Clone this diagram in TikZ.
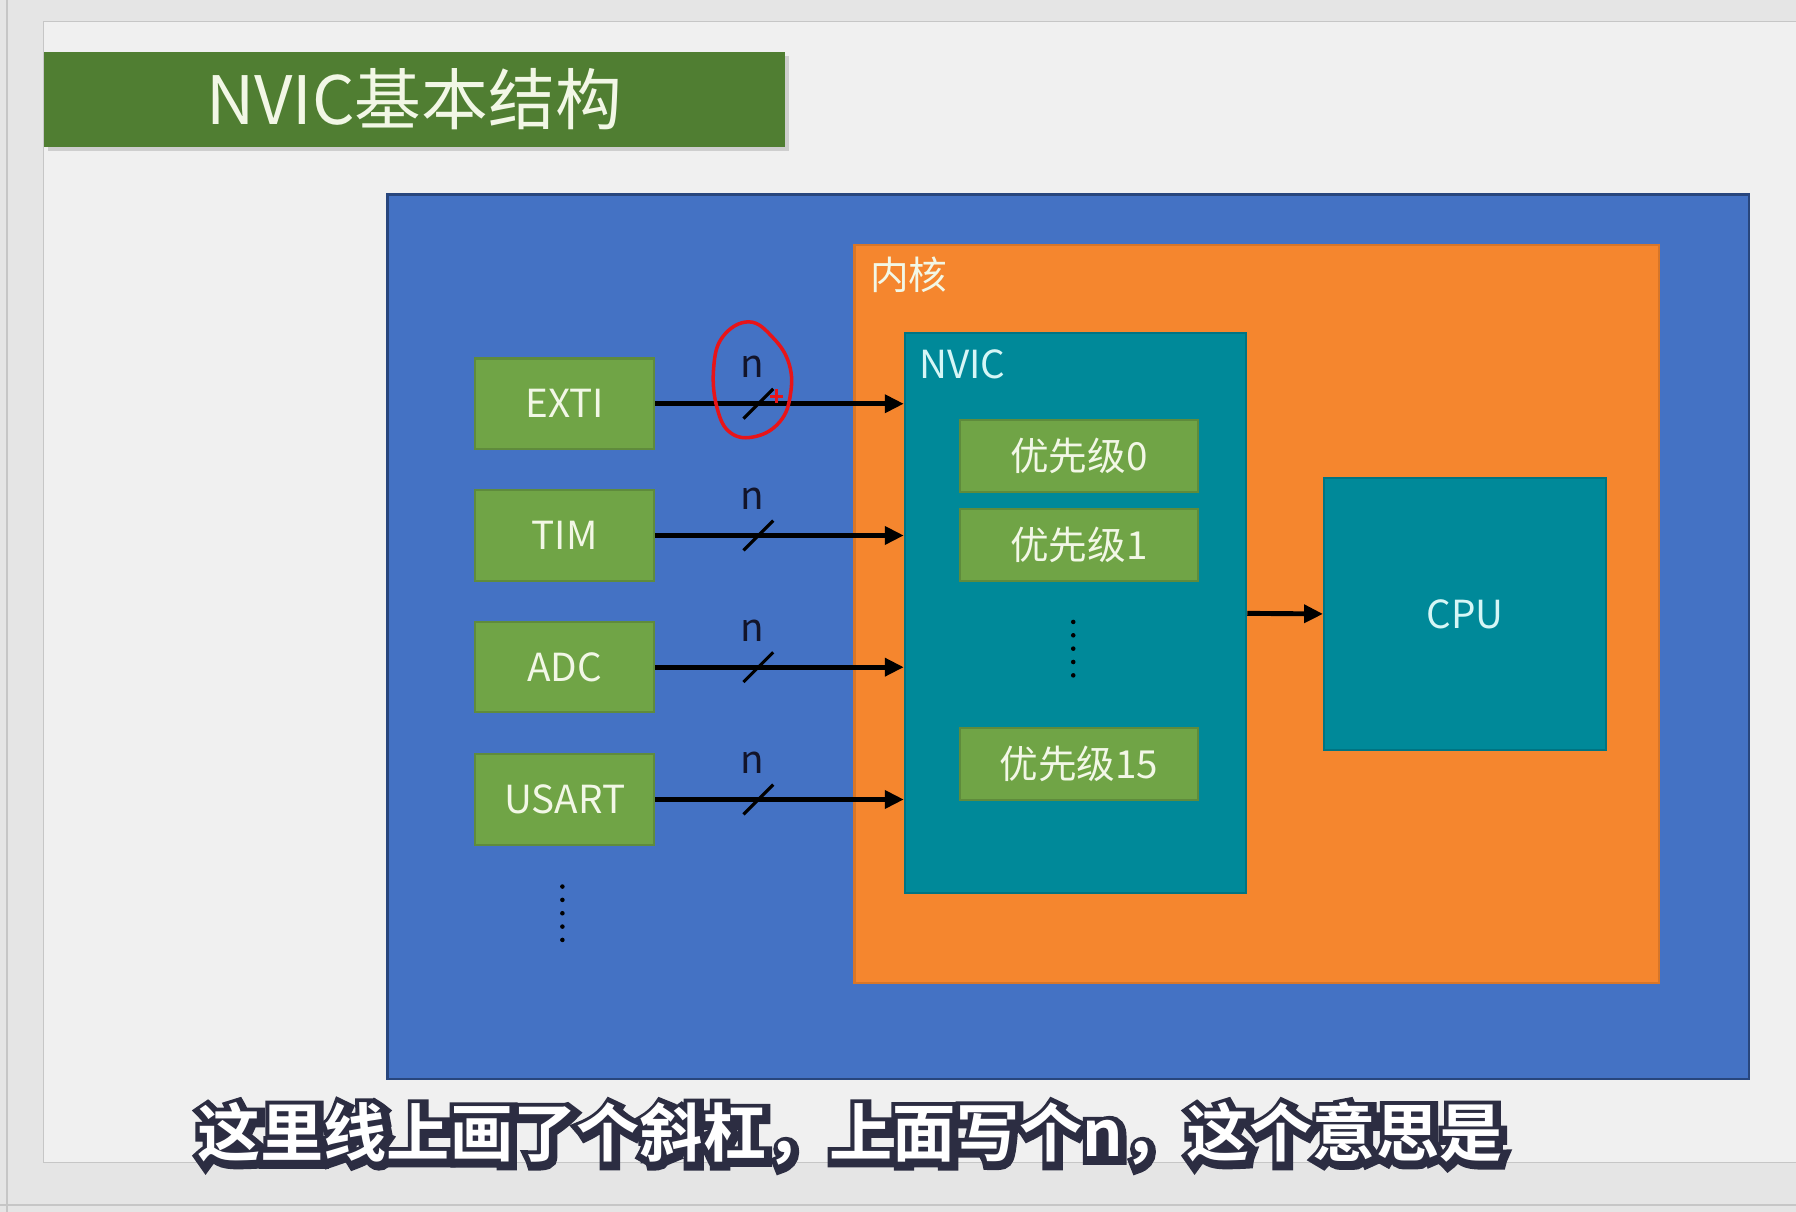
\documentclass[tikz,border=0pt]{standalone}
\usepackage{fontspec}
\setmainfont{Noto Sans CJK SC}
\newfontfamily\notefont{Noto Sans CJK SC Bold}
\newfontfamily\noteedge[FakeBold=20]{Noto Sans CJK SC Bold}
\usetikzlibrary{arrows.meta,calc,shadows}

\definecolor{slidebg}{RGB}{240,240,240}
\definecolor{framebg}{RGB}{229,229,229}
\definecolor{frameln}{RGB}{198,198,198}
\definecolor{titlegreen}{RGB}{80,126,50}
\definecolor{chipblue}{RGB}{68,114,196}
\definecolor{chipedge}{RGB}{40,70,125}
\definecolor{coreorange}{RGB}{245,134,46}
\definecolor{nvicteal}{RGB}{0,137,153}
\definecolor{boxgreen}{RGB}{112,164,70}
\definecolor{boxtext}{RGB}{242,247,230}
\definecolor{tealtext}{RGB}{214,246,246}
\definecolor{nblack}{RGB}{18,20,42}
\definecolor{subedge}{RGB}{44,45,66}
\definecolor{penred}{RGB}{232,20,24}

\newcommand{\pxl}{0.011454cm}

\begin{document}
\begin{tikzpicture}[x=\pxl, y=-\pxl,
    area/.style={inner sep=0pt, line width=0.6pt},
    src/.style={area, draw=boxgreen!85!black, fill=boxgreen, text=boxtext,
      minimum width=156*\pxl, minimum height=79*\pxl, font=\fontsize{11}{13}\selectfont},
    prio/.style={src, minimum width=208*\pxl, minimum height=63*\pxl},
    label/.style={inner sep=0pt, anchor=west, font=\fontsize{11}{13}\selectfont},
    sig/.style={line width=1.4pt, -{Triangle[length=5.4pt,width=5pt]}},
    cut/.style={line width=0.9pt},
    nlab/.style={inner sep=0pt, text=nblack, font=\fontsize{11}{13}\selectfont},
    vdots/.style={line width=1.3pt, line cap=round, dash pattern=on 0pt off 3.8pt},
    note/.style={inner sep=0pt, font=\fontsize{18}{20}\selectfont}]

  % slide frame
  \useasboundingbox (0,0) rectangle (1568,1058);
  \fill[framebg] (0,0) rectangle (1568,1058);
  \draw[frameln] (6,0) -- (6,1058);
  \draw[frameln] (0,1052) -- (1568,1052);
  \draw[frameln, fill=slidebg] (38,19) rectangle (1580,1015);

  \node[area, fill=titlegreen, text=boxtext, minimum width=647*\pxl, minimum height=83*\pxl,
    font=\fontsize{19}{22}\selectfont,
    drop shadow={shadow xshift=1.2pt, shadow yshift=-1.2pt, opacity=0.3}] (title) at (361.5,86.5) {NVIC基本结构};

  % chip, core and NVIC
  \node[area, draw=chipedge, fill=chipblue, line width=0.8pt,
    minimum width=1189*\pxl, minimum height=772*\pxl] (chip) at (932.5,556) {};
  \node[area, draw=coreorange!88!black, fill=coreorange,
    minimum width=702*\pxl, minimum height=644*\pxl] (core) at (1097,536) {};
  \node[label, text=boxtext] (corelab) at (759,240) {内核};

  \node[area, draw=nvicteal!85!black, fill=nvicteal,
    minimum width=298*\pxl, minimum height=489*\pxl] (nvic) at (939,535.5) {};
  \node[label, text=tealtext] (nviclab) at (802,318) {NVIC};

  \node[prio] (p0) at (942,398) {优先级0};
  \node[prio] (p1) at (942,476) {优先级1};
  \node[prio] (p15) at (942,667) {优先级15};
  \draw[vdots] (937,543) -- (937,598);

  \node[area, draw=nvicteal!85!black, fill=nvicteal, text=tealtext,
    minimum width=246*\pxl, minimum height=238*\pxl,
    font=\fontsize{11}{13}\selectfont] (cpu) at (1279,536) {CPU};
  \draw[sig] (nvic.east) -- (cpu.west);

  % interrupt sources
  \foreach \name/\y/\txt in {exti/352.5/EXTI, tim/467.5/TIM, adc/582.5/ADC, usart/698/USART} {
    \node[src] (\name) at (493,\y) {\txt};
    \draw[sig] (\name.east) -- coordinate[pos=0.415] (cut-\name) (\name.east -| nvic.west);
    \draw[cut] ($(cut-\name)+(-13,13)$) -- ($(cut-\name)+(13,-13)$);
    \node[nlab] (n-\name) at ($(cut-\name)+(-5,-32)$) {n};
  }
  \draw[vdots] (491,774) -- (491,828);

  % pen mark
  \draw[penred, line width=1pt, line cap=round] plot[smooth cycle, tension=0.7] coordinates {
    (654,281) (675,295) (689,318) (690,345) (681,368) (660,381) (638,378) (626,356) (623,322) (631,294)};
  \draw[penred, line width=0.7pt] (672,346) -- (684,346) (678,340) -- (678,352);

  % subtitle
  \node[note, text=subedge, font=\noteedge\fontsize{18}{20}\selectfont] (noteedge) at (743.5,991.5) {这里线上画了个斜杠，上面写个n，这个意思是};
  \node[note, text=white, font=\notefont\fontsize{18}{20}\selectfont] (note) at (742,990) {这里线上画了个斜杠，上面写个n，这个意思是};
\end{tikzpicture}
\end{document}
